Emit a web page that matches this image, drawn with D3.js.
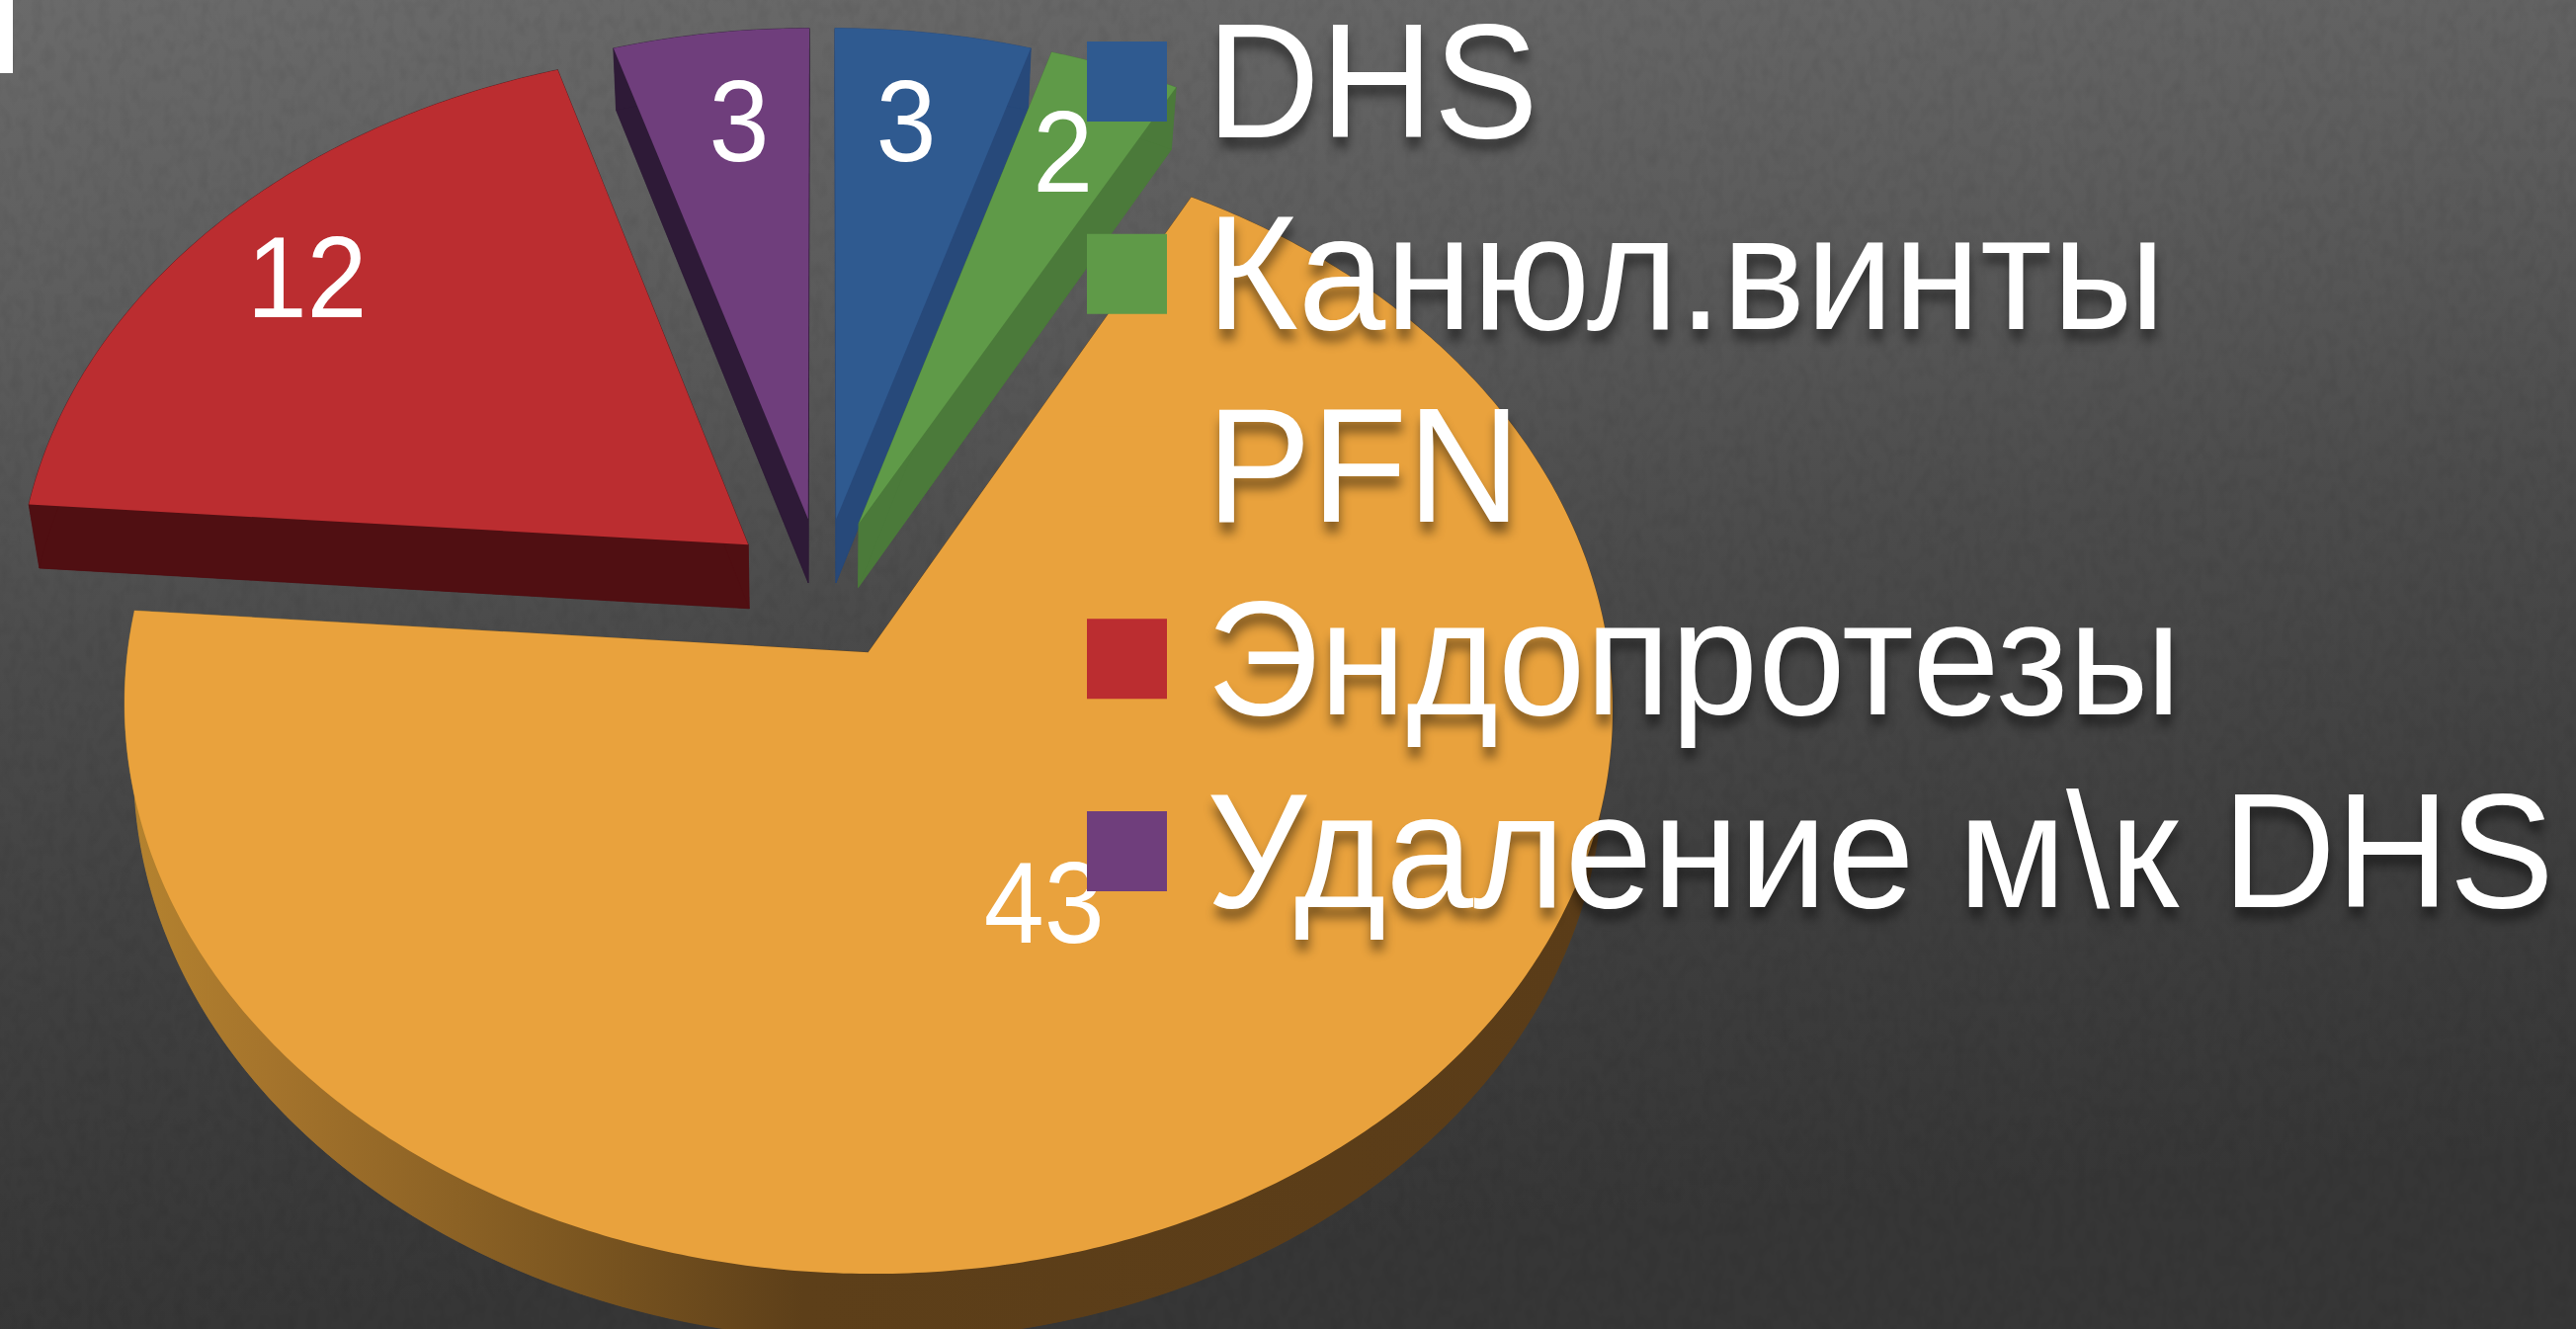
<!DOCTYPE html>
<html><head><meta charset="utf-8">
<script src="https://cdnjs.cloudflare.com/ajax/libs/d3/7.8.5/d3.min.js"></script>
<style>
html,body{margin:0;padding:0;background:#444;overflow:hidden}
svg{display:block}
text{font-family:"Liberation Sans",Arial,sans-serif;fill:#fff}
.legend-label{text-shadow:1px 11px 11px rgba(0,0,0,.45)}
</style></head><body>
<script>
const categories = ["DHS","Канюл.винты","PFN","Эндопротезы","Удаление м\\к DHS"];
const values = [3,2,43,12,3];
const topColors = ["#2f5a90","#5f9a48","#e9a23d","#bb2d30","#6f3e7c"];
const sideColors = ["#27497a","#4b7a3a","url(#orangeSide)","#500f12","#2e1a37"];
const labelFractions = [0.8,0.8,0.485,0.82,0.8];
const labelNudgeX = [-9.5,-4,-5,0,10.5];
const labelNudgeY = [-2,-1,1,-3,-2];

const W=2607,H=1345;
const explode=0.13, persp=0.09477, cx=832;
const planeTop={D:741.4,A:500,B:595.9}, planeBottom={D:731.5,A:496,B:660.7};
const project=(x,y,p)=>{const den=1-persp*y;return [cx+p.D*x/den,(p.A*y+p.B)/den];};

const svg=d3.select("body").append("svg").attr("width",W).attr("height",H);
const defs=svg.append("defs");
const bg=defs.append("linearGradient").attr("id","bg").attr("gradientUnits","userSpaceOnUse")
  .attr("x1",0).attr("y1",0).attr("x2",100).attr("y2",1345);
[[0,"#6a6a6a"],[0.25,"#5c5c5c"],[0.5,"#4b4b4b"],[0.75,"#3f3f3f"],[1,"#363636"]].forEach(s=>bg.append("stop").attr("offset",s[0]).attr("stop-color",s[1]));
const og=defs.append("linearGradient").attr("id","orangeSide").attr("gradientUnits","userSpaceOnUse").attr("x1",130).attr("x2",1631).attr("y1",0).attr("y2",0);
[[0,"#b5832f"],[0.094,"#a5742c"],[0.31,"#7a5520"],[0.455,"#5d3f19"],[1,"#5a3c18"]].forEach(s=>og.append("stop").attr("offset",s[0]).attr("stop-color",s[1]));
const noise=defs.append("filter").attr("id","noise").attr("x",0).attr("y",0).attr("width","100%").attr("height","100%");
noise.append("feTurbulence").attr("type","fractalNoise").attr("baseFrequency","0.09 0.06").attr("numOctaves",2).attr("seed",4);
noise.append("feColorMatrix").attr("type","matrix").attr("values","0 0 0 0 0  0 0 0 0 0  0 0 0 0 0  0.9 0 0 0 -0.38");

svg.append("rect").attr("width",W).attr("height",H).attr("fill","url(#bg)");
svg.append("rect").attr("width",W).attr("height",H).attr("filter","url(#noise)").attr("opacity",0.12);
svg.append("rect").attr("x",0).attr("y",0).attr("width",13).attr("height",74).attr("fill","#fff");

const pie=d3.pie().sort(null).value(d=>d)(values);
const line=d3.line();
const arcPoints=(d,p)=>{
  const mid=(d.startAngle+d.endAngle)/2, ox=explode*Math.sin(mid), oy=-explode*Math.cos(mid);
  const n=Math.max(6,Math.ceil((d.endAngle-d.startAngle)/0.01));
  return {apex:project(ox,oy,p),arc:d3.range(n+1).map(i=>{
    const a=d.startAngle+(d.endAngle-d.startAngle)*i/n;
    return project(ox+Math.sin(a),oy-Math.cos(a),p);})};
};
const gSides=svg.append("g"), gTops=svg.append("g");
pie.forEach((d,i)=>{
  const t=arcPoints(d,planeTop), b=arcPoints(d,planeBottom);
  const fill=sideColors[i];
  const quads=[[t.apex,t.arc[0],b.arc[0],b.apex],[t.apex,t.arc[t.arc.length-1],b.arc[b.arc.length-1],b.apex],
    t.arc.concat(b.arc.slice().reverse()),[b.apex].concat(b.arc)];
  gSides.selectAll(null).data(quads).join("path").attr("d",q=>line(q)+"Z").attr("fill",fill).attr("stroke",fill).attr("stroke-width",0.5);
  gTops.append("path").attr("d",line([t.apex].concat(t.arc))+"Z").attr("fill",topColors[i]);
});

// data labels sit at a fraction of the radius on each slice's mid-angle
const labelPos=(d,i)=>{const m=(d.startAngle+d.endAngle)/2,r=explode+labelFractions[i];
  const p=project(r*Math.sin(m),-r*Math.cos(m),planeTop);return [p[0]+labelNudgeX[i],p[1]+40+labelNudgeY[i]];};
svg.append("g").selectAll("text").data(pie).join("text")
  .attr("text-anchor","middle").attr("font-size",113)
  .attr("transform",(d,i)=>{const p=labelPos(d,i);return `translate(${p[0]},${p[1]}) scale(0.97,1.03)`;})
  .text(d=>d.value);

// legend
const legendY=d3.scalePoint().domain(categories).range([82.5,861.5]);
const legend=svg.append("g").selectAll("g").data(categories).join("g").attr("transform",c=>`translate(0,${legendY(c)})`);
legend.append("rect").attr("x",1100).attr("y",-40.5).attr("width",81).attr("height",81).attr("fill",(c,i)=>topColors[i]);
legend.append("text").attr("class","legend-label").attr("transform","translate(1221,56) scale(1.007,1.04)").attr("font-size",158).text(c=>c);
</script>
</body></html>
